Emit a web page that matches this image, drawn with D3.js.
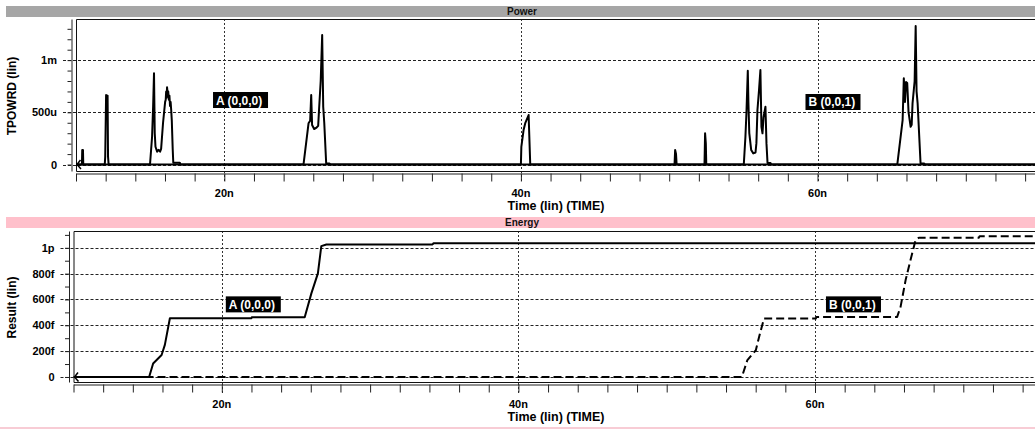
<!DOCTYPE html>
<html>
<head>
<meta charset="utf-8">
<script src="https://cdn.jsdelivr.net/npm/d3@7"></script>
<style>
  body { margin: 0; background: #fff; }
  svg { display: block; font-family: "Liberation Sans", Arial, sans-serif; }
</style>
</head>
<body>
<svg id="chart" width="1035" height="430"></svg>
<script>
// time axis (ns)
var timeTicks = [20, 40, 60];
var timeLabels = ['20n', '40n', '60n'];

// power axis (u)
var powerTicks = [0, 500, 1000];
var powerLabels = ['0', '500u', '1m'];

// energy axis (f)
var energyTicks = [0, 200, 400, 600, 800, 1000];
var energyLabels = ['0', '200f', '400f', '600f', '800f', '1p'];

// TPOWRD, [time ns, power u]
var powerA = [
  [10, 0], [10.40, 0], [10.42, 139], [10.47, 139], [10.49, 0],
  [11.94, 0], [11.97, 75], [12.03, 666], [12.09, 630], [12.13, 660], [12.16, 75], [12.20, 0],
  [14.99, 0], [15.13, 266], [15.20, 554], [15.26, 874], [15.31, 300], [15.36, 170], [15.47, 123],
  [15.57, 140], [15.67, 123], [15.74, 150], [15.87, 400], [16.01, 600], [16.05, 620], [16.08, 700],
  [16.11, 640], [16.14, 740], [16.18, 680], [16.22, 700], [16.26, 620], [16.30, 660], [16.34, 560],
  [16.38, 600], [16.42, 520], [16.46, 420], [16.52, 150], [16.56, 17], [17.0, 17], [17.05, 0],
  [25.34, 0], [25.68, 395], [25.79, 420], [25.86, 666], [25.92, 378], [26.06, 340], [26.19, 350],
  [26.33, 370], [26.40, 553], [26.50, 800], [26.60, 1240], [26.67, 553], [26.74, 400], [26.87, 10],
  [27.1, 10], [27.15, 0],
  [40.0, 0], [40.03, 170], [40.18, 330], [40.30, 400], [40.52, 474], [40.63, 0],
  [75, 0]
];
var powerB = [
  [10, 0],
  [50.36, 0], [50.40, 139], [50.46, 100], [50.50, 0],
  [52.38, 0], [52.42, 299], [52.47, 200], [52.50, 0],
  [55.03, 0], [55.14, 266], [55.21, 500], [55.30, 899], [55.34, 600], [55.40, 300], [55.53, 139],
  [55.67, 107], [55.82, 115], [55.88, 205], [55.95, 522], [56.05, 700], [56.15, 905], [56.22, 362],
  [56.29, 299], [56.36, 450], [56.49, 554], [56.56, 200], [56.63, 15], [56.83, 15], [56.88, 0],
  [65.38, 0], [65.74, 426], [65.82, 826], [65.90, 600], [65.97, 790], [66.05, 780], [66.14, 500],
  [66.28, 362], [66.35, 380], [66.41, 589], [66.55, 800], [66.62, 1326], [66.68, 700], [66.75, 589],
  [66.95, 10], [67.2, 10], [67.25, 0],
  [75, 0]
];

// Result, [time ns, energy f]
var energyA = [
  [10, 0], [15.10, 0], [15.37, 104], [15.94, 170], [16.16, 248], [16.50, 455], [22.0, 455],
  [22.02, 462], [25.59, 462], [26.04, 647], [26.48, 802], [26.71, 1013], [27.05, 1026],
  [34.21, 1026], [34.28, 1035], [75, 1035]
];
var energyB = [
  [10, 0], [55.07, 0], [55.44, 131], [56.01, 207], [56.23, 310], [56.56, 452], [60.05, 452],
  [60.10, 465], [65.54, 465], [65.77, 543], [66.11, 750], [66.44, 905], [66.78, 1060],
  [67.0, 1078], [71.04, 1078], [71.1, 1090], [75, 1090]
];

// curve labels, [name, time ns, value]
var powerNotes = [['A (0,0,0)', 19.24, 618], ['B (0,0,1)', 59.19, 599]];
var energyNotes = [['A (0,0,0)', 20.27, 562], ['B (0,0,1)', 60.74, 562]];

var svg = d3.select('#chart');
svg.append('rect').attr('width', 1035).attr('height', 430).attr('fill', '#fff');

function panel(p, idx) {
  var g = svg.append('g');
  var right = 1040;

  g.append('rect')
    .attr('x', 6).attr('y', p.barY)
    .attr('width', 1035).attr('height', 11)
    .attr('fill', p.barColor);
  g.append('text')
    .attr('x', 522).attr('y', p.barY + 9)
    .attr('text-anchor', 'middle')
    .attr('font-size', 10).attr('font-weight', 'bold')
    .attr('fill', '#111')
    .text(p.title);

  var x = d3.scaleLinear().domain([10, 75]).range([p.left, p.left + 65 * 14.83]);
  var y = d3.scaleLinear().domain(p.yDomain).range([p.bottom, p.top]);

  svg.append('clipPath').attr('id', 'clip' + idx)
    .append('rect')
    .attr('x', p.left).attr('y', p.top)
    .attr('width', right - p.left).attr('height', p.bottom - p.top);

  // horizontal grid
  g.selectAll('.hgrid').data(p.yTicks).enter().append('line')
    .attr('x1', p.left - 13).attr('x2', right)
    .attr('y1', function(d) { return Math.round(y(d)) + 0.5; })
    .attr('y2', function(d) { return Math.round(y(d)) + 0.5; })
    .attr('stroke', '#222').attr('stroke-dasharray', '3,2');

  // vertical grid
  g.selectAll('.vgrid').data(timeTicks).enter().append('line')
    .attr('x1', function(d) { return Math.round(x(d)) + 0.5; })
    .attr('x2', function(d) { return Math.round(x(d)) + 0.5; })
    .attr('y1', p.top).attr('y2', p.bottom + 11)
    .attr('stroke', '#333').attr('stroke-dasharray', '2,2');

  // y axis with minor ticks
  var yAxis = d3.axisLeft(y)
    .tickValues(d3.range(0, p.yDomain[1], 100))
    .tickSize(4).tickSizeOuter(0).tickFormat('');
  g.append('g')
    .attr('transform', 'translate(' + (p.left - 4.5) + ',0)')
    .call(yAxis)
    .call(function(a) { a.selectAll('line,path').attr('stroke', '#222'); });

  // x axis
  var xAxis = d3.axisBottom(x)
    .tickValues(d3.range(10, 76, 2))
    .tickSize(8).tickSizeOuter(0).tickFormat('');
  g.append('g')
    .attr('transform', 'translate(0,' + (p.bottom + 2.5) + ')')
    .call(xAxis)
    .call(function(a) { a.selectAll('line,path').attr('stroke', '#222'); });

  // frame
  g.append('path')
    .attr('d', 'M' + right + ',' + (p.top + 0.5) + 'H' + (p.left + 0.5) + 'V' + (p.bottom + 0.5) + 'H' + right)
    .attr('fill', 'none').attr('stroke', '#111');

  // tick labels
  g.selectAll('.ylab').data(p.yTicks).enter().append('text')
    .attr('x', p.left - 19)
    .attr('y', function(d) { return y(d) + 4; })
    .attr('text-anchor', 'end')
    .attr('font-size', 11).attr('font-weight', 'bold')
    .text(function(d, i) { return p.yLabels[i]; });
  g.selectAll('.xlab').data(timeTicks).enter().append('text')
    .attr('x', function(d) { return x(d); })
    .attr('y', p.bottom + 25.5)
    .attr('text-anchor', 'middle')
    .attr('font-size', 11).attr('font-weight', 'bold')
    .text(function(d, i) { return timeLabels[i]; });

  g.append('text')
    .attr('x', 556).attr('y', p.bottom + 38.5)
    .attr('text-anchor', 'middle')
    .attr('font-size', 12.5).attr('font-weight', 'bold')
    .text('Time (lin) (TIME)');

  g.append('text')
    .attr('transform', 'translate(16,' + ((p.top + p.bottom) / 2 + 1) + ') rotate(-90)')
    .attr('text-anchor', 'middle')
    .attr('font-size', 12).attr('font-weight', 'bold')
    .text(p.yTitle);

  // traces
  var line = d3.line()
    .x(function(d) { return x(d[0]); })
    .y(function(d) { return y(d[1]); });
  var traces = g.append('g').attr('clip-path', 'url(#clip' + idx + ')');
  p.series.forEach(function(s) {
    traces.append('path')
      .attr('d', line(s.data))
      .attr('fill', 'none')
      .attr('stroke', '#000')
      .attr('stroke-width', 2)
      .attr('stroke-linejoin', 'round')
      .attr('stroke-dasharray', s.dash || null);
  });

  // start arrow
  var y0 = y(0);
  g.append('path')
    .attr('d', 'M' + (p.left + 4.5) + ',' + (y0 - 4.5) + 'L' + (p.left + 1) + ',' + y0 + 'L' + (p.left + 5) + ',' + (y0 + 4.5))
    .attr('fill', 'none').attr('stroke', '#000').attr('stroke-width', 1.5);

  // curve labels
  var notes = g.selectAll('.note').data(p.notes).enter().append('g')
    .attr('transform', function(d) { return 'translate(' + x(d[1]) + ',' + y(d[2]) + ')'; });
  notes.append('rect')
    .attr('x', 0).attr('y', -8)
    .attr('width', 55).attr('height', 16)
    .attr('fill', '#000');
  notes.append('text')
    .attr('x', 3).attr('y', 4.5)
    .attr('font-size', 12).attr('font-weight', 'bold')
    .attr('fill', '#fff')
    .text(function(d) { return d[0]; });
}

panel({
  title: 'Power', barY: 6, barColor: '#a6a6a6',
  left: 76, top: 19, bottom: 171,
  yDomain: [-62, 1394], yTicks: powerTicks, yLabels: powerLabels,
  yTitle: 'TPOWRD (lin)',
  series: [{ data: powerA }, { data: powerB }],
  notes: powerNotes
}, 0);

panel({
  title: 'Energy', barY: 217, barColor: '#ffc0cb',
  left: 73.5, top: 231, bottom: 382,
  yDomain: [-39, 1130], yTicks: energyTicks, yLabels: energyLabels,
  yTitle: 'Result (lin)',
  series: [{ data: energyA }, { data: energyB, dash: '8,4' }],
  notes: energyNotes
}, 1);

svg.append('rect')
  .attr('x', 0).attr('y', 427)
  .attr('width', 1035).attr('height', 2)
  .attr('fill', '#f8ccd5');
</script>
</body>
</html>
